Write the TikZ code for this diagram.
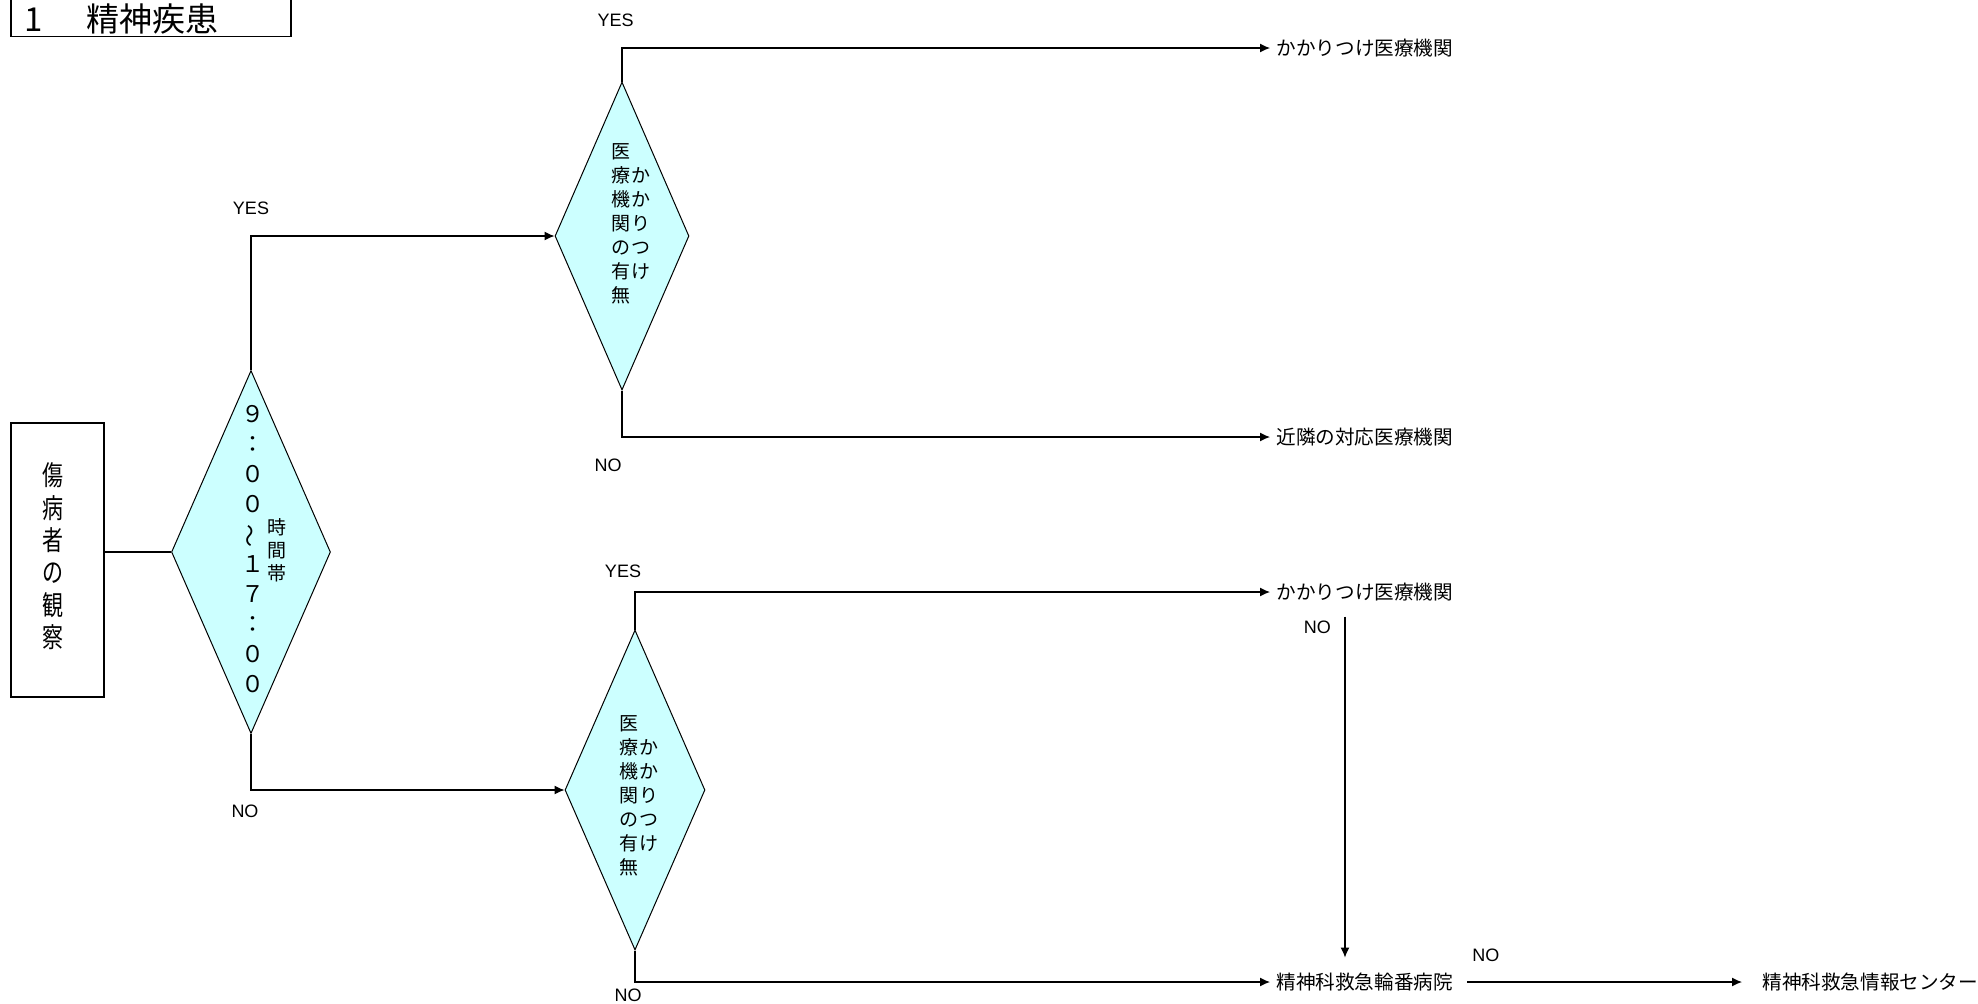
\documentclass[tikz,border=0pt]{standalone}
\usepackage{fontspec}
\setmainfont{Liberation Sans}
\newfontfamily\jp{Noto Sans CJK JP}
\usepackage{graphicx}
\usetikzlibrary{shapes.geometric,arrows.meta,calc}
\definecolor{paleaqua}{RGB}{204,255,255}
\tikzstyle{line} = [draw, -{Latex[length=5pt,width=4.5pt]}, line width=0.6pt]
\tikzstyle{block} = [draw, rectangle, line width=0.75pt, inner sep=0pt]
\tikzstyle{decision} = [draw, diamond, fill=paleaqua, line width=0.5pt, inner sep=0pt, font=\jp]
\tikzstyle{dest} = [anchor=west, inner xsep=3pt, inner ysep=2pt, font=\jp\fontsize{9.8}{9.8}\selectfont]
\tikzstyle{answer} = [inner sep=0pt, font=\fontsize{9}{9}\selectfont]
% vertical text column, and a box that does not size its node
\newcommand{\tatecol}[1]{\begin{tabular}[c]{@{}c@{}}#1\end{tabular}}
\newcommand{\flatbox}[3]{\makebox[0pt]{\smash{\raisebox{#2}{\hspace*{#1}#3}}}}

\begin{document}
\begin{tikzpicture}[x=0.5pt, y=-0.5pt]
        \useasboundingbox (0,0) rectangle (1978,1003);
        \node[block, anchor=south west, text width=140pt, align=left, text height=20pt, text depth=2.2pt, font=\jp\fontsize{16.5}{16.5}\selectfont] (title) at (10,37) {\hspace*{7pt}1\hspace{21.5pt}精神疾患};
        \node[block, minimum width=46.5pt, minimum height=137pt, font=\jp\fontsize{10.5}{12.2}\selectfont] (obs) at (57.5,560) {\hspace*{-5pt}\scalebox{1}[1.3]{\tatecol{傷\\病\\者\\の\\観\\察}}};
        \node[decision, minimum width=79.5pt, minimum height=181.5pt] (tb) at (251,552) {\flatbox{13pt}{-2.6pt}{{\fontsize{11.5}{15}\selectfont\tatecol{９\\：\\０\\０\\\rotatebox[origin=c]{90}{～}\\１\\７\\：\\０\\０}}\hspace{1.5pt}{\fontsize{9.5}{11.5}\selectfont\tatecol{時\\間\\帯}}}};
        \node[decision, minimum width=67pt, minimum height=154pt] (k1) at (622,236) {\flatbox{9pt}{2.9pt}{\fontsize{9.5}{12}\selectfont\tatecol{医\\療\\機\\関\\の\\有\\無}\hspace{0.5pt}\tatecol{か\\か\\り\\つ\\け}}};
        \node[decision, minimum width=70pt, minimum height=160pt] (k2) at (635,790) {\flatbox{4pt}{-6.1pt}{\fontsize{9.5}{12}\selectfont\tatecol{医\\療\\機\\関\\の\\有\\無}\hspace{0.5pt}\tatecol{か\\か\\り\\つ\\け}}};
        \node[dest] (dest1) at (1270,48) {かかりつけ医療機関};
        \node[dest] (near1) at (1270,437) {近隣の対応医療機関};
        \node[dest] (dest2) at (1270,592) {かかりつけ医療機関};
        \node[dest] (rinban) at (1270,982) {精神科救急輪番病院};
        \node[dest] (info) at (1756,982) {精神科救急情報センター};
        \coordinate (drop) at ([xshift=37.5pt]dest2.south west);
        \draw[line width=0.6pt] (obs.east |- tb.west) -- (tb.west);
        \path[line] (tb.north) |- node[answer, pos=0.5, above=10.5pt] {YES} (k1.west);
        \path[line] (tb.south) |- node[answer, pos=0.5, below=7.3pt, xshift=-3pt] {NO} (k2.west);
        \path[line] (k1.north) |- node[answer, pos=0.5, above=10.3pt, xshift=-3.2pt] {YES} (dest1.west);
        \path[line] (k1.south) |- node[answer, pos=0.5, below=10.8pt, xshift=-7pt] {NO} (near1.west);
        \path[line] (k2.north) |- node[answer, pos=0.5, above=6.8pt, xshift=-6pt] {YES} (dest2.west);
        \path[line] (k2.south) |- node[answer, pos=0.5, below=3.3pt, xshift=-3.5pt] {NO} (rinban.west);
        \path[line, shorten <=5.6pt, shorten >=5.5pt] (drop) -- node[answer, pos=0.06, left=6.75pt] {NO} (drop |- rinban.north);
        \path[line, shorten <=4pt, shorten >=7pt] (rinban) -- node[answer, pos=0.09, above=9.8pt] {NO} (info);
    \end{tikzpicture}
\end{document}
